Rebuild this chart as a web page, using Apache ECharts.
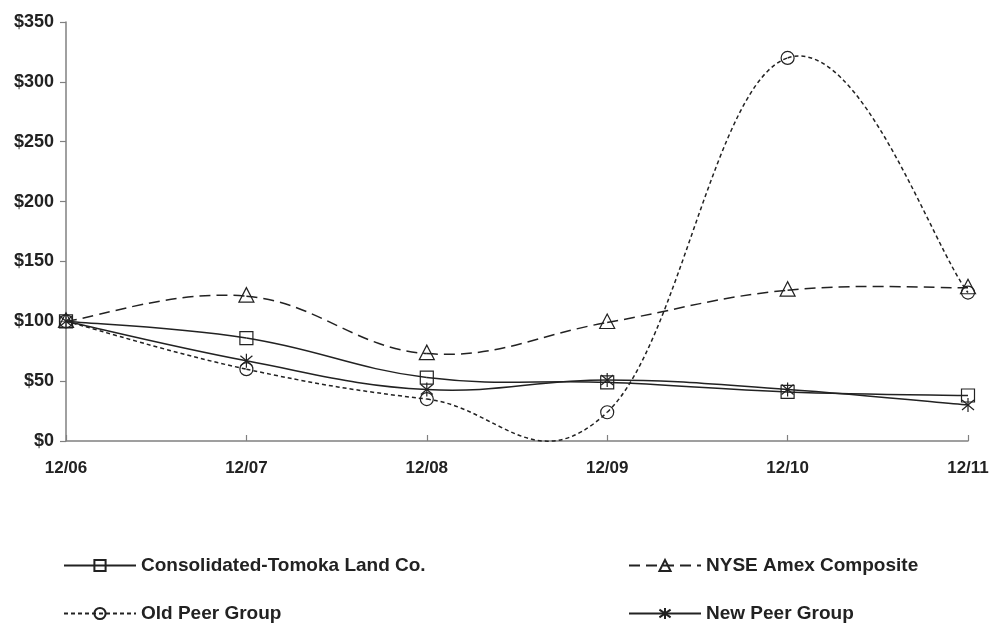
<!DOCTYPE html>
<html><head><meta charset="utf-8">
<script src="https://cdn.jsdelivr.net/npm/echarts@6/dist/echarts.min.js"></script>
<style>html,body{margin:0;padding:0;background:#fff}#c{width:992px;height:625px}</style>
</head><body><div id="c"></div>
<script>
const categories = ['12/06','12/07','12/08','12/09','12/10','12/11'];
const consolidated = [100, 86, 53, 49, 41, 38];
const nyseAmex = [100, 121, 73, 99, 126, 128];
const oldPeer = [100, 60, 35, 24, 320, 124];
const newPeer = [100, 67, 43, 51, 43, 30];
const yTicks = [0, 50, 100, 150, 200, 250, 300, 350];
const names = ['Consolidated-Tomoka Land Co.', 'NYSE Amex Composite', 'Old Peer Group', 'New Peer Group'];

const ink = '#222';
const font = 'Liberation Sans, Arial, sans-serif';
const K = 0.2;

function marker(kind, c) {
  const st = { fill: 'none', stroke: ink, lineWidth: 1.2 };
  const [x, y] = c;
  if (kind === 'rect') return { type: 'rect', shape: { x: x - 6.5, y: y - 6.5, width: 13, height: 13 }, style: st };
  if (kind === 'tri') return { type: 'polygon', shape: { points: [[x, y - 8.5], [x - 7.5, y + 6], [x + 7.5, y + 6]] }, style: st };
  if (kind === 'circle') return { type: 'circle', shape: { cx: x, cy: y, r: 6.5 }, style: st };
  return { type: 'group', children: [
    { type: 'line', shape: { x1: x, y1: y - 7, x2: x, y2: y + 7 }, style: st },
    { type: 'line', shape: { x1: x - 6, y1: y - 5, x2: x + 6, y2: y + 5 }, style: st },
    { type: 'line', shape: { x1: x - 6, y1: y + 5, x2: x + 6, y2: y - 5 }, style: st }
  ]};
}

function curveSeries(values, kind, dash) {
  return {
    type: 'custom', name: 'curve-' + kind, silent: true, z: 3,
    data: values.map((v, i) => [i, v]),
    encode: { x: 0, y: 1 },
    renderItem: function (params, api) {
      const i = params.dataIndex;
      const pts = values.map((v, j) => api.coord([j, v]));
      const children = [];
      const n = pts.length;
      if (i < n - 1) {
        const p0 = pts[Math.max(0, i - 1)], p1 = pts[i], p2 = pts[i + 1], p3 = pts[Math.min(n - 1, i + 2)];
        children.push({
          type: 'bezierCurve',
          shape: {
            x1: p1[0], y1: p1[1], x2: p2[0], y2: p2[1],
            cpx1: p1[0] + K * (p2[0] - p0[0]), cpy1: p1[1] + K * (p2[1] - p0[1]),
            cpx2: p2[0] - K * (p3[0] - p1[0]), cpy2: p2[1] - K * (p3[1] - p1[1])
          },
          style: { stroke: ink, lineWidth: 1.5, fill: null, lineDash: dash }
        });
      }
      children.push(marker(kind, pts[i]));
      return { type: 'group', children };
    }
  };
}

function legendSeries(name, symbol, dash) {
  return {
    name, type: 'line', data: [], symbol, symbolSize: 12,
    lineStyle: { color: ink, width: 1.5, type: dash },
    itemStyle: { color: 'rgba(255,255,255,0)', borderColor: ink, borderWidth: 1.2 }
  };
}
const asterisk = 'path://M5,0 L5,10 M0,1.5 L10,8.5 M0,8.5 L10,1.5';
const legTxt = { color: ink, fontFamily: font, fontWeight: 'bold', fontSize: 19 };
function leg(name, left, top) {
  return { data: [name], left, top, padding: 0, itemWidth: 72, itemHeight: 14, itemGap: 0,
    selectedMode: false, textStyle: legTxt };
}

const chart = echarts.init(document.getElementById('c'));
chart.setOption({
  animation: false,
  grid: { left: 66, right: 24, top: 22, bottom: 184, containLabel: false },
  xAxis: {
    type: 'category', data: categories, boundaryGap: false,
    axisLine: { lineStyle: { color: '#808080', width: 1.5 } },
    axisTick: { inside: true, length: 6, lineStyle: { color: '#808080', width: 1.2 } },
    axisLabel: { color: ink, fontFamily: font, fontWeight: 'bold', fontSize: 17, margin: 19 },
    splitLine: { show: false }
  },
  yAxis: {
    type: 'value', min: 0, max: 350, interval: 50,
    axisLine: { show: true, lineStyle: { color: '#808080', width: 1.5 } },
    axisTick: { show: true, length: 6, lineStyle: { color: '#808080', width: 1.2 } },
    axisLabel: { color: ink, fontFamily: font, fontWeight: 'bold', fontSize: 18, margin: 12,
      formatter: v => yTicks.includes(v) ? '$' + v : '' },
    splitLine: { show: false }
  },
  legend: [
    leg(names[0], 63, 556),
    leg(names[2], 63, 604),
    leg(names[1], 628, 556),
    leg(names[3], 628, 604)
  ],
  series: [
    legendSeries(names[0], 'rect', 'solid'),
    legendSeries(names[1], 'triangle', [11, 6]),
    legendSeries(names[2], 'circle', [4, 3]),
    legendSeries(names[3], asterisk, 'solid'),
    curveSeries(consolidated, 'rect', null),
    curveSeries(nyseAmex, 'tri', [11, 6]),
    curveSeries(oldPeer, 'circle', [4, 3]),
    curveSeries(newPeer, 'star', null)
  ]
});
</script></body></html>
